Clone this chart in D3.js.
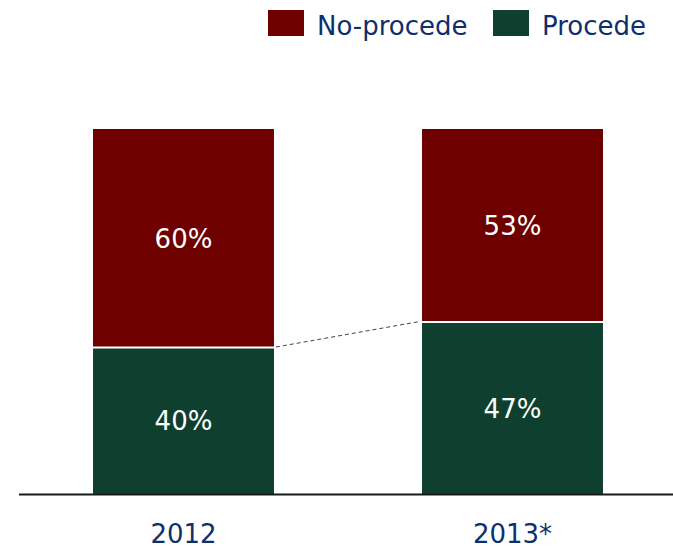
<!DOCTYPE html>
<html>
<head>
<meta charset="utf-8">
<script src="https://cdn.jsdelivr.net/npm/d3@7/dist/d3.min.js"></script>
<style>
  html, body { margin: 0; padding: 0; background: #fff; }
  svg { display: block; }
  text { font-family: Verdana, "DejaVu Sans", sans-serif; }
</style>
</head>
<body>
<svg id="chart" width="673" height="547"></svg>
<script>
// Share of cases per year (percent)
const years = ["2012", "2013*"];
const procede = [40, 47];
const noProcede = [60, 53];
const seriesNames = ["No-procede", "Procede"];
const seriesColors = ["#6e0000", "#0f3f2e"];

const svg = d3.select("#chart");
const W = 673, H = 547;
const textColor = "#0d2f6e";

const x = d3.scaleBand()
  .domain(years)
  .range([19, 677])
  .paddingInner(0.45)
  .paddingOuter(0.225);

const y = d3.scaleLinear().domain([0, 100]).range([494, 129]);

const rows = years.map((yr, i) => ({ year: yr, Procede: procede[i], "No-procede": noProcede[i] }));
const stack = d3.stack().keys(["Procede", "No-procede"])(rows);
const color = d3.scaleOrdinal().domain(seriesNames).range(seriesColors);

// Stacked bars
const layers = svg.append("g").selectAll("g")
  .data(stack)
  .join("g")
  .attr("fill", d => color(d.key));

layers.selectAll("rect")
  .data(d => d.map(s => ({ key: d.key, s })))
  .join("rect")
  .attr("x", d => x(d.s.data.year))
  .attr("width", x.bandwidth())
  .attr("y", d => y(d.s[1]))
  .attr("height", d => y(d.s[0]) - y(d.s[1]));

// White separator between the two segments
svg.append("g").selectAll("line")
  .data(rows)
  .join("line")
  .attr("x1", d => x(d.year))
  .attr("x2", d => x(d.year) + x.bandwidth())
  .attr("y1", d => y(d.Procede) - 0.5)
  .attr("y2", d => y(d.Procede) - 0.5)
  .attr("stroke", "#fff")
  .attr("stroke-width", 2);

// Dashed connector between the segment boundaries
svg.append("line")
  .attr("x1", x(years[0]) + x.bandwidth() + 2)
  .attr("y1", y(procede[0]) - 1)
  .attr("x2", x(years[1]) - 2)
  .attr("y2", y(procede[1]) - 1)
  .attr("stroke", "#444")
  .attr("stroke-width", 1)
  .attr("stroke-dasharray", "4,3");

// Value labels
layers.selectAll("text")
  .data(d => d.map(s => ({ key: d.key, s })))
  .join("text")
  .attr("x", d => x(d.s.data.year) + x.bandwidth() / 2)
  .attr("y", d => (y(d.s[0]) + y(d.s[1])) / 2)
  .attr("dy", "0.36em")
  .attr("text-anchor", "middle")
  .attr("fill", "#fff")
  .attr("font-size", 26)
  .text(d => (d.s[1] - d.s[0]) + "%");

// Baseline and category labels
const xAxis = d3.axisBottom(x).tickSize(0).tickPadding(0);
const ax = svg.append("g").attr("transform", `translate(0,${y(0)})`).call(xAxis);
ax.select(".domain").remove();
ax.selectAll("text")
  .attr("y", 49)
  .attr("dy", 0)
  .attr("font-size", 26)
  .attr("font-family", "Verdana, 'DejaVu Sans', sans-serif")
  .attr("fill", textColor);

svg.append("line")
  .attr("x1", 19).attr("x2", W)
  .attr("y1", y(0) + 0.5).attr("y2", y(0) + 0.5)
  .attr("stroke", "#1a1a1a")
  .attr("stroke-width", 2);

// Legend
const legendX = [268, 493];
const legend = svg.append("g").selectAll("g")
  .data(seriesNames)
  .join("g")
  .attr("transform", (d, i) => `translate(${legendX[i]},10)`);

legend.append("rect")
  .attr("width", 36)
  .attr("height", 26)
  .attr("fill", d => color(d));

legend.append("text")
  .attr("x", 49)
  .attr("y", 25)
  .attr("font-size", 26)
  .attr("fill", textColor)
  .text(d => d);
</script>
</body>
</html>
